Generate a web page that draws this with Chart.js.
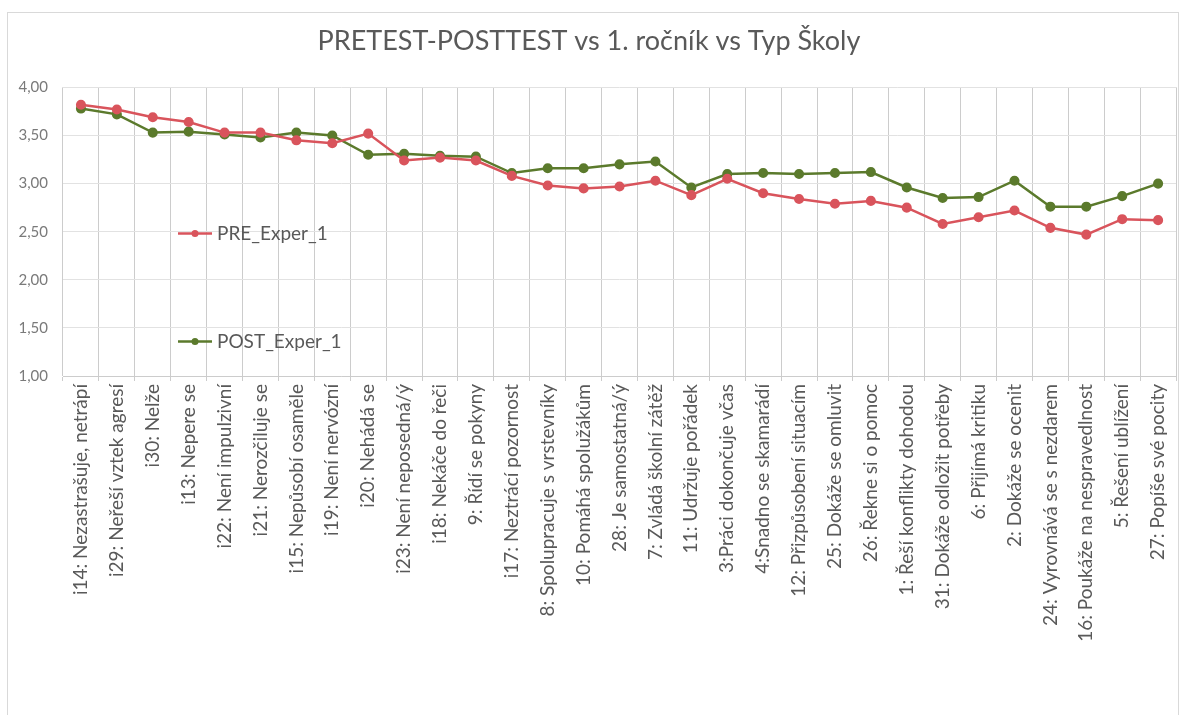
<!DOCTYPE html>
<html>
<head>
<meta charset="utf-8">
<script src="https://cdn.jsdelivr.net/npm/chart.js@4/dist/chart.umd.min.js"></script>
<style>
  html, body { margin: 0; padding: 0; background: #fff; }
  #wrap { position: relative; width: 1184px; height: 715px; }
  #frame { position: absolute; left: 7px; top: 12px; width: 1172px; height: 720px; border: 1px solid #d9d9d9; box-sizing: border-box; pointer-events: none; }
</style>
</head>
<body>
<div id="wrap">
  <canvas id="chart" width="1184" height="715"></canvas>
  <div id="frame"></div>
</div>
<script>
const categories = [
    "i14: Nezastrašuje, netrápí",
    "i29: Neřeší vztek agresí",
    "i30: Nelže",
    "i13: Nepere se",
    "i22: Není impulzivní",
    "i21: Nerozčiluje se",
    "i15: Nepůsobí osaměle",
    "i19: Není nervózní",
    "i20: Nehádá se",
    "i23: Není neposedná/ý",
    "i18: Nekáče do řeči",
    "9: Řídí se pokyny",
    "i17: Neztrácí pozornost",
    "8: Spolupracuje s vrstevníky",
    "10: Pomáhá spolužákům",
    "28: Je samostatná/ý",
    "7: Zvládá školní zátěž",
    "11: Udržuje pořádek",
    "3:Práci dokončuje včas",
    "4:Snadno se skamarádí",
    "12: Přizpůsobení situacím",
    "25: Dokáže se omluvit",
    "26: Řekne si o pomoc",
    "1: Řeší konflikty dohodou",
    "31: Dokáže odložit potřeby",
    "6: Přijímá kritiku",
    "2: Dokáže se ocenit",
    "24: Vyrovnává se s nezdarem",
    "16: Poukáže na nespravedlnost",
    "5: Řešení ublížení",
    "27: Popíše své pocity",
];

const preExper = [3.82, 3.77, 3.69, 3.64, 3.53, 3.53, 3.45, 3.42, 3.52, 3.24, 3.27,
    3.24, 3.08, 2.98, 2.95, 2.97, 3.03, 2.88, 3.05, 2.90, 2.84, 2.79, 2.82, 2.75,
    2.58, 2.65, 2.72, 2.54, 2.47, 2.63, 2.62];

const postExper = [3.78, 3.72, 3.53, 3.54, 3.51, 3.48, 3.53, 3.50, 3.30, 3.31, 3.29,
    3.28, 3.11, 3.16, 3.16, 3.20, 3.23, 2.96, 3.10, 3.11, 3.10, 3.11, 3.12, 2.96,
    2.85, 2.86, 3.03, 2.76, 2.76, 2.87, 3.00];

const yTicks = [1, 1.5, 2, 2.5, 3, 3.5, 4];

const seriesNames = ["PRE_Exper_1", "POST_Exper_1"];
const seriesColors = ["#d9545c", "#5b7a2c"];

const FONT = "Lato, 'Open Sans', sans-serif";
const TEXT = "#595959";

// legend drawn inside the plot, like the original
const insideLegend = {
    id: "insideLegend",
    afterDraw(chart) {
        const ctx = chart.ctx;
        const a = chart.chartArea;
        const rows = [a.top + 146, a.top + 254];
        ctx.save();
        seriesNames.forEach((name, i) => {
            const y = rows[i];
            const x0 = a.left + 115;
            ctx.strokeStyle = seriesColors[i];
            ctx.lineWidth = 2.5;
            ctx.beginPath();
            ctx.moveTo(x0, y);
            ctx.lineTo(x0 + 34, y);
            ctx.stroke();
            ctx.fillStyle = seriesColors[i];
            ctx.beginPath();
            ctx.arc(x0 + 17, y, 3.5, 0, Math.PI * 2);
            ctx.fill();
            ctx.fillStyle = TEXT;
            ctx.font = "19px " + FONT;
            ctx.textBaseline = "middle";
            ctx.fillText(name, x0 + 39, y);
        });
        ctx.restore();
    },
};

new Chart(document.getElementById("chart"), {
    type: "line",
    data: {
        labels: categories,
        datasets: [preExper, postExper].map((values, i) => ({
            label: seriesNames[i],
            data: values,
            borderColor: seriesColors[i],
            backgroundColor: seriesColors[i],
            borderWidth: 2.5,
            pointRadius: 3.8,
            pointHoverRadius: 3.8,
            tension: 0,
        })),
    },
    options: {
        responsive: false,
        animation: false,
        layout: { padding: { top: 0, right: 6, bottom: 0, left: 0 } },
        plugins: {
            legend: { display: false },
            tooltip: { enabled: false },
            title: {
                display: true,
                text: "PRETEST-POSTTEST vs 1. ročník vs Typ Školy",
                color: TEXT,
                font: { family: FONT, size: 27, weight: "normal" },
                padding: { top: 25, bottom: 30 },
            },
        },
        scales: {
            x: {
                offset: true,
                grid: { offset: true, color: "#cccccc", tickLength: 5, drawTicks: true },
                border: { color: "#cccccc" },
                ticks: {
                    autoSkip: false,
                    minRotation: 90,
                    maxRotation: 90,
                    padding: 3,
                    color: TEXT,
                    font: { family: FONT, size: 19 },
                },
                afterFit(scale) { scale.height = 339; },
            },
            y: {
                min: 1,
                max: 4,
                afterBuildTicks(scale) { scale.ticks = yTicks.map((v) => ({ value: v })); },
                grid: { color: "#e2e2e2", drawTicks: false },
                border: { display: false },
                ticks: {
                    padding: 15,
                    color: "#7a7a7a",
                    font: { family: FONT, size: 15 },
                    callback: (v) => v.toFixed(2).replace(".", ","),
                },
                afterFit(scale) { scale.width = 63; },
            },
        },
    },
    plugins: [insideLegend],
});
</script>
</body>
</html>
